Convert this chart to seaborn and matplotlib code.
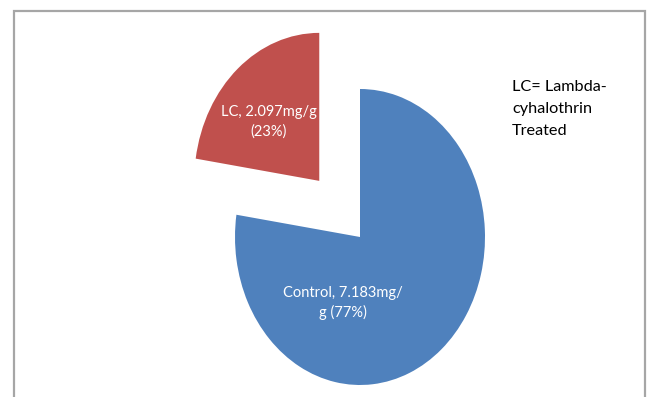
import matplotlib
matplotlib.use("Agg")
import matplotlib.pyplot as plt
from matplotlib.patches import Rectangle
import seaborn as sns

# Total residue per group (mg/g)
groups = ["Control", "LC"]
residue = [7.183, 2.097]
percent_labels = ["77%", "23%"]
slice_colors = ["#4F81BD", "#C0504D"]
explode = [0.0, 0.5]

sns.set_theme(style="white")
plt.rcParams["font.family"] = ["Lato", "DejaVu Sans"]

W, H = 649, 397
fig = plt.figure(figsize=(W / 100, H / 100), dpi=100)
ax = fig.add_axes([0, 0, 1, 1])

wedges, _ = ax.pie(
    residue,
    colors=slice_colors,
    explode=explode,
    startangle=90,
    counterclock=False,
    wedgeprops=dict(linewidth=0),
)

# Pie centre at (360, 237) px, radii 125 px across, 148 px tall
cx, cy, rx, ry = 360, H - 237, 125, 148
ax.set_aspect("auto")
ax.set_xlim(-cx / rx, (W - cx) / rx)
ax.set_ylim(-cy / ry, (H - cy) / ry)
ax.axis("off")

label_pos = {"Control": (-0.136, -0.446), "LC": (-0.728, 0.777)}
for g, v, p in zip(groups, residue, percent_labels):
    if g == "Control":
        txt = f"{g}, {v:.3f}mg/\ng ({p})"
    else:
        txt = f"{g}, {v:.3f}mg/g\n({p})"
    x, y = label_pos[g]
    ax.text(x, y, txt, color="white", fontsize=10.5, ha="center", va="center",
            linespacing=1.45)

fig.text(512 / W, 1 - 109 / H, "LC= Lambda-\ncyhalothrin\nTreated",
         fontsize=11.7, color="black", ha="left", va="center", linespacing=1.7)

fig.add_artist(Rectangle((14 / W, -0.1), (645 - 14) / W, (H - 11) / H + 0.1,
                         transform=fig.transFigure, fill=False,
                         edgecolor="#A6A6A6", linewidth=1.6))

fig.savefig("out.png", dpi=100)
